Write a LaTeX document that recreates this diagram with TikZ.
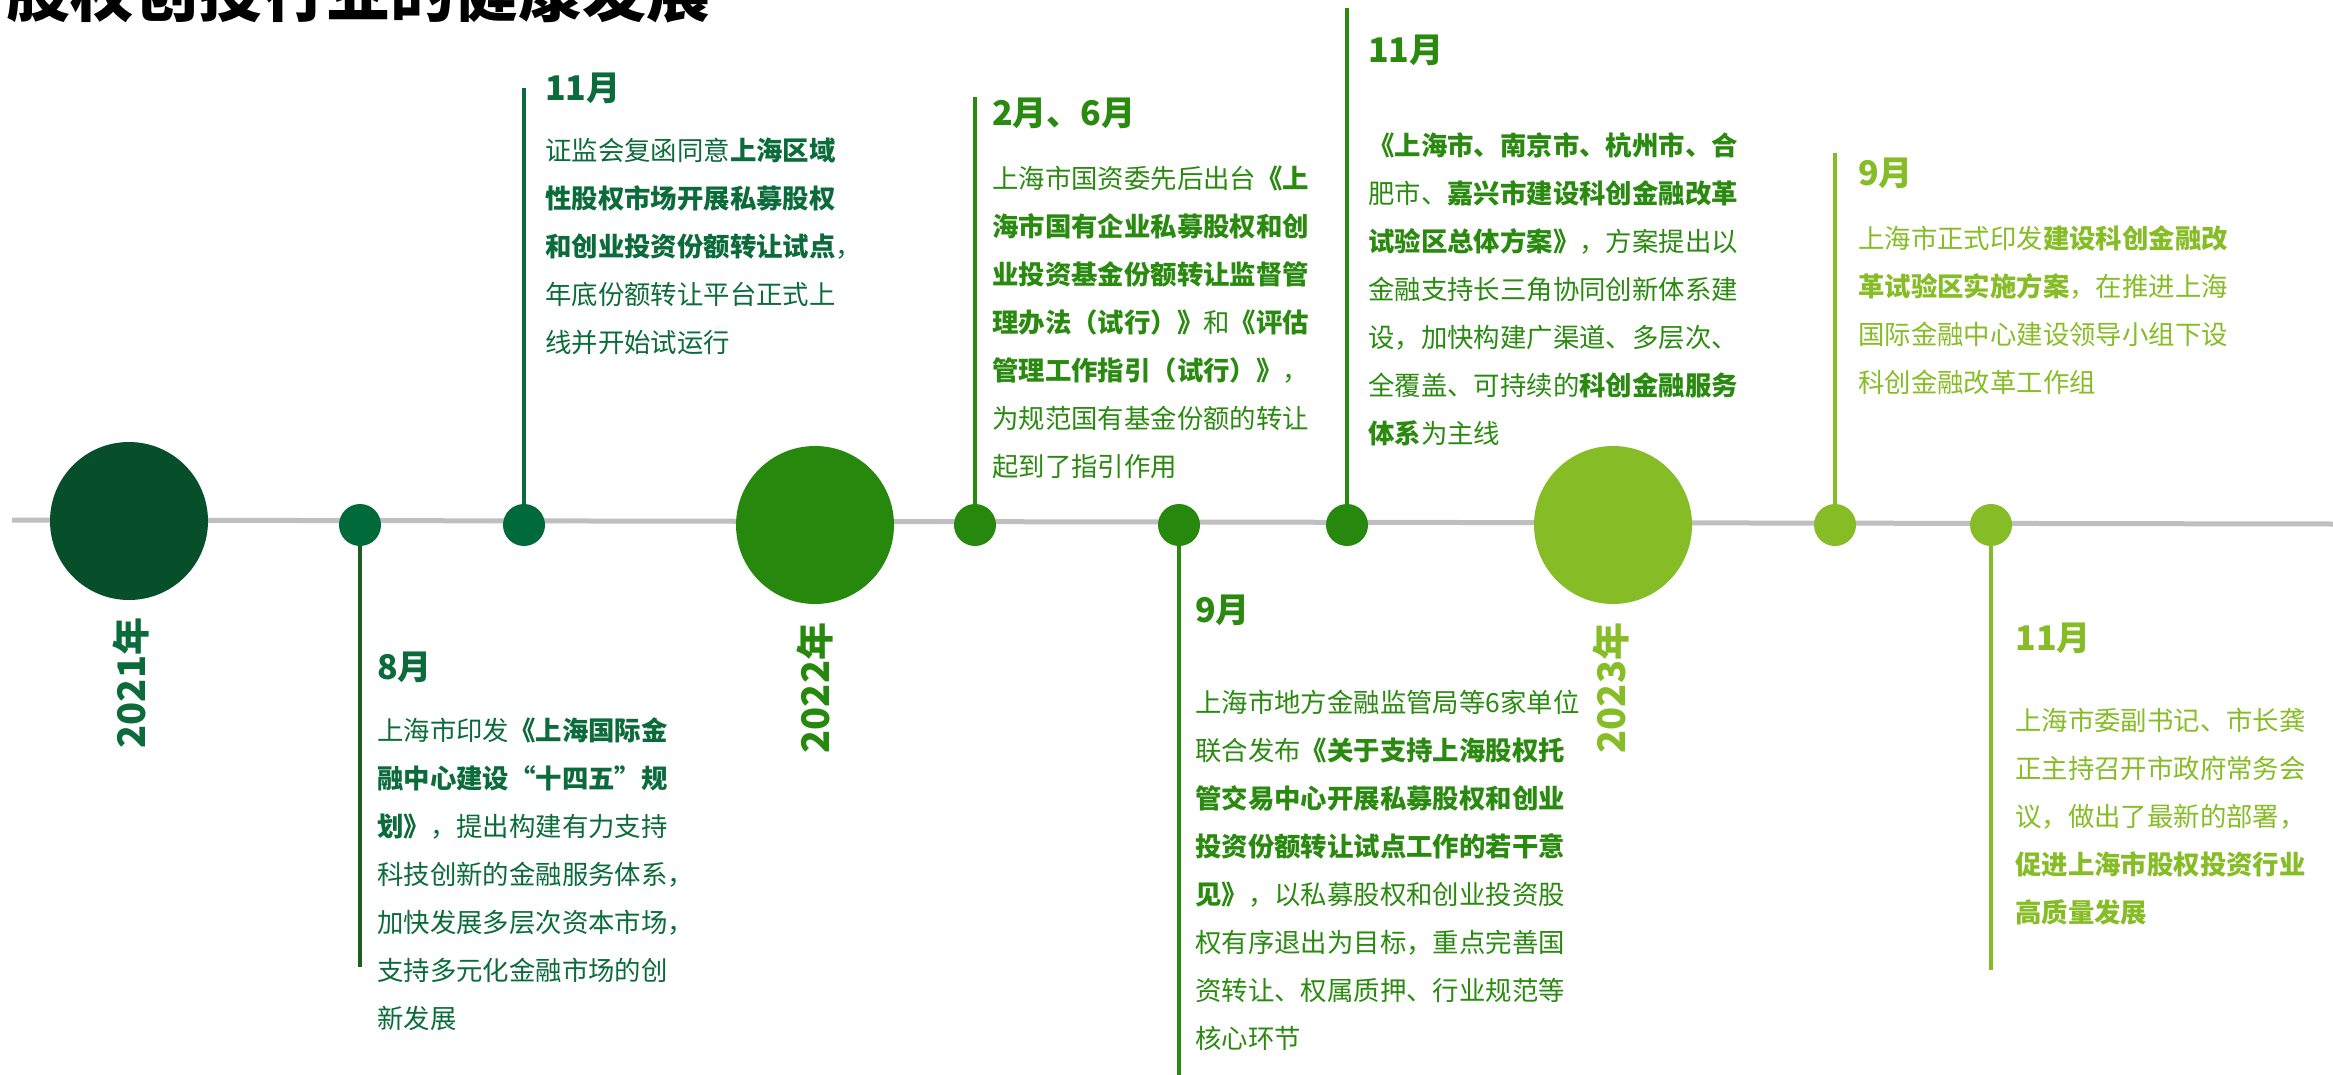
\documentclass[tikz,border=0pt]{standalone}
\usepackage{fontspec}
\setmainfont{Noto Sans CJK SC}
\pgfdeclarelayer{bg}
\pgfsetlayers{bg,main}
\definecolor{gA}{HTML}{064F2A}
\definecolor{gAs}{HTML}{006A3A}
\definecolor{gAt}{HTML}{0B6B3A}
\definecolor{gAd}{HTML}{1B5E20}
\definecolor{gB}{HTML}{27880E}
\definecolor{gBt}{HTML}{2A8A10}
\definecolor{gC}{HTML}{86BC25}
\definecolor{lineg}{HTML}{BFBFBF}
\newcommand{\fwq}[1]{{\addfontfeatures{RawFeature=+fwid}#1}}
\begin{document}
\begin{tikzpicture}[x=0.75pt,y=-0.75pt,
  bigdot/.style={circle,fill=#1,inner sep=0pt,minimum size=118.5pt},
  smalldot/.style={circle,fill=#1,inner sep=0pt,minimum size=31.5pt},
  head/.style={anchor=base west,inner sep=0pt,text=#1,font=\fontsize{25.5pt}{30pt}\selectfont\bfseries},
  body/.style={anchor=base west,inner sep=0pt,align=left,text width=420pt,text=#1,font=\fontsize{19.8pt}{36pt}\selectfont},
  yearlab/.style={rotate=90,inner sep=0pt,text=#1,font=\fontsize{28.5pt}{30pt}\selectfont\bfseries},
  stemline/.style={line width=3pt,draw=#1},
]
\useasboundingbox (0,0) rectangle (2333,1074);

% title (cut off at top)
\node[anchor=base west,inner sep=0pt,font=\fontsize{48pt}{50pt}\selectfont\bfseries] (title) at (6,17) {股权创投行业的健康发展};

% circles
\node[bigdot=gA] (c21) at (129,521) {};
\node[smalldot=gAs] (s1) at (360,525) {};
\node[smalldot=gAs] (s2) at (524,525) {};
\node[bigdot=gB] (c22) at (815,525) {};
\node[smalldot=gB] (s3) at (975,525) {};
\node[smalldot=gB] (s4) at (1179,525) {};
\node[smalldot=gB] (s5) at (1347,525) {};
\node[bigdot=gC] (c23) at (1613,525) {};
\node[smalldot=gC] (s6) at (1835,525) {};
\node[smalldot=gC] (s7) at (1991,525) {};

% stem ends and timeline ends
\coordinate (lstart) at (12,520);
\coordinate (lend) at (2333,524);
\coordinate (t1) at (360,967);
\coordinate (t2) at (524,88);
\coordinate (t3) at (975,97);
\coordinate (t4) at (1179,1080);
\coordinate (t5) at (1347,8);
\coordinate (t6) at (1835,153);
\coordinate (t7) at (1991,970);

\begin{pgfonlayer}{bg}
  \draw[lineg,line width=3.75pt] (lstart) -- (lend);
  \draw[stemline=gAd] (s1.center) -- (t1);
  \draw[stemline=gAt] (s2.center) -- (t2);
  \draw[stemline=gBt] (s3.center) -- (t3);
  \draw[stemline=gBt] (s4.center) -- (t4);
  \draw[stemline=gBt] (s5.center) -- (t5);
  \draw[stemline=gC] (s6.center) -- (t6);
  \draw[stemline=gC] (s7.center) -- (t7);
\end{pgfonlayer}

% year labels
\node[yearlab=gAt] (y21) at (131,683) {2021年};
\node[yearlab=gB] (y22) at (815,688) {2022年};
\node[yearlab=gC] (y23) at (1611,688) {2023年};

% 2021 Nov (above)
\node[head=gAt] (hA) at (545,100) {11月};
\node[body=gAt] (bA) at (545,160) {证监会复函同意\textbf{上海区域}\\
\textbf{性股权市场开展私募股权}\\
\textbf{和创业投资份额转让试点}，\\
年底份额转让平台正式上\\
线并开始试运行};

% 2021 Aug (below)
\node[head=gAt] (hB) at (377,679) {8月};
\node[body=gAt] (bB) at (377,740) {上海市印发\textbf{《上海国际金}\\
\textbf{融中心建设\fwq{“}十四五\fwq{”}规}\\
\textbf{划》}，提出构建有力支持\\
科技创新的金融服务体系，\\
加快发展多层次资本市场，\\
支持多元化金融市场的创\\
新发展};

% 2022 Feb/Jun (above)
\node[head=gBt] (hC) at (992,125) {2月、6月};
\node[body=gBt] (bC) at (992,188) {上海市国资委先后出台\textbf{《上}\\
\textbf{海市国有企业私募股权和创}\\
\textbf{业投资基金份额转让监督管}\\
\textbf{理办法（试行）》}和\textbf{《评估}\\
\textbf{管理工作指引（试行）》}，\\
为规范国有基金份额的转让\\
起到了指引作用};

% 2022 Sep (below)
\node[head=gBt] (hF) at (1195,622) {9月};
\node[body=gBt] (bF) at (1195,712) {上海市地方金融监管局等6家单位\\
联合发布\textbf{《关于支持上海股权托}\\
\textbf{管交易中心开展私募股权和创业}\\
\textbf{投资份额转让试点工作的若干意}\\
\textbf{见》}，以私募股权和创业投资股\\
权有序退出为目标，重点完善国\\
资转让、权属质押、行业规范等\\
核心环节};

% 2022 Nov (above)
\node[head=gBt] (hD) at (1368,63) {11月};
\node[body=gBt] (bD) at (1368,155) {\textbf{《上海市、南京市、杭州市、合}\\
肥市、\textbf{嘉兴市建设科创金融改革}\\
\textbf{试验区总体方案》}，方案提出以\\
金融支持长三角协同创新体系建\\
设，加快构建广渠道、多层次、\\
全覆盖、可持续的\textbf{科创金融服务}\\
\textbf{体系}为主线};

% 2023 Sep (above)
\node[head=gC] (hE) at (1858,185) {9月};
\node[body=gC] (bE) at (1858,248) {上海市正式印发\textbf{建设科创金融改}\\
\textbf{革试验区实施方案}，在推进上海\\
国际金融中心建设领导小组下设\\
科创金融改革工作组};

% 2023 Nov (below)
\node[head=gC] (hG) at (2015,650) {11月};
\node[body=gC] (bG) at (2015,730) {上海市委副书记、市长龚\\
正主持召开市政府常务会\\
议，做出了最新的部署，\\
\textbf{促进上海市股权投资行业}\\
\textbf{高质量发展}};
\end{tikzpicture}
\end{document}
